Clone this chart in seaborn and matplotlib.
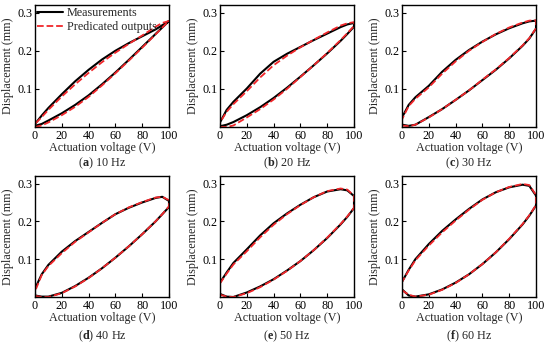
import matplotlib
matplotlib.use("Agg")
import matplotlib.pyplot as plt
import seaborn as sns
import pandas as pd

# ---------------- data ----------------
VOLTS = [0, 5, 10, 20, 30, 40, 50, 60, 70, 80, 90, 95, 100]

PANELS = ["a", "b", "c", "d", "e", "f"]
FREQS = ["10 Hz", "20 Hz", "30 Hz", "40 Hz", "50 Hz", "60 Hz"]

# ascending (lower) branch, measured
MEAS_UP = {
    "a": [0.003, 0.008, 0.017, 0.036, 0.058, 0.083, 0.112, 0.143, 0.176, 0.210, 0.244, 0.261, 0.278],
    "b": [0.002, 0.006, 0.013, 0.031, 0.052, 0.076, 0.103, 0.132, 0.162, 0.193, 0.226, 0.244, 0.263],
    "c": [0.006, 0.003, 0.006, 0.026, 0.047, 0.071, 0.096, 0.123, 0.150, 0.180, 0.213, 0.232, 0.258],
    "d": [0.004, 0.001, 0.001, 0.011, 0.029, 0.051, 0.076, 0.104, 0.134, 0.166, 0.200, 0.219, 0.238],
    "e": [0.008, 0.001, 0.000, 0.012, 0.028, 0.047, 0.070, 0.095, 0.124, 0.156, 0.192, 0.212, 0.235],
    "f": [0.020, 0.004, 0.001, 0.007, 0.020, 0.038, 0.060, 0.087, 0.118, 0.153, 0.192, 0.215, 0.242],
}
# descending (upper) branch, measured (listed at ascending voltages)
MEAS_DOWN = {
    "a": [0.008, 0.030, 0.050, 0.086, 0.120, 0.150, 0.177, 0.200, 0.220, 0.238, 0.256, 0.267, 0.278],
    "b": [0.012, 0.045, 0.066, 0.101, 0.140, 0.171, 0.192, 0.210, 0.228, 0.245, 0.262, 0.269, 0.273],
    "c": [0.025, 0.058, 0.078, 0.108, 0.145, 0.176, 0.202, 0.224, 0.243, 0.259, 0.272, 0.277, 0.279],
    "d": [0.022, 0.060, 0.085, 0.120, 0.148, 0.172, 0.196, 0.219, 0.236, 0.250, 0.262, 0.265, 0.254],
    "e": [0.038, 0.065, 0.090, 0.126, 0.163, 0.195, 0.221, 0.244, 0.264, 0.279, 0.285, 0.282, 0.267],
    "f": [0.040, 0.072, 0.100, 0.140, 0.175, 0.205, 0.233, 0.258, 0.277, 0.290, 0.297, 0.294, 0.268],
}
# predicted outputs
PRED_UP = {
    "a": [0.000, 0.004, 0.012, 0.031, 0.053, 0.079, 0.109, 0.141, 0.174, 0.208, 0.243, 0.261, 0.278],
    "b": [0.000, 0.000, 0.004, 0.025, 0.047, 0.072, 0.100, 0.131, 0.162, 0.194, 0.228, 0.246, 0.265],
    "c": [0.004, 0.002, 0.006, 0.025, 0.047, 0.071, 0.096, 0.124, 0.151, 0.181, 0.214, 0.233, 0.259],
    "d": [0.003, 0.000, 0.000, 0.010, 0.028, 0.050, 0.076, 0.104, 0.134, 0.166, 0.200, 0.219, 0.240],
    "e": [0.006, 0.001, 0.000, 0.010, 0.026, 0.046, 0.069, 0.095, 0.124, 0.157, 0.193, 0.213, 0.236],
    "f": [0.018, 0.006, 0.001, 0.006, 0.019, 0.037, 0.060, 0.087, 0.118, 0.154, 0.193, 0.216, 0.243],
}
PRED_DOWN = {
    "a": [0.008, 0.026, 0.045, 0.080, 0.112, 0.142, 0.170, 0.195, 0.218, 0.240, 0.263, 0.273, 0.278],
    "b": [0.012, 0.040, 0.060, 0.094, 0.130, 0.162, 0.187, 0.209, 0.229, 0.248, 0.266, 0.272, 0.275],
    "c": [0.020, 0.055, 0.074, 0.104, 0.140, 0.172, 0.200, 0.223, 0.244, 0.261, 0.274, 0.279, 0.280],
    "d": [0.015, 0.058, 0.082, 0.116, 0.146, 0.171, 0.196, 0.219, 0.237, 0.251, 0.263, 0.265, 0.256],
    "e": [0.036, 0.062, 0.086, 0.121, 0.158, 0.191, 0.219, 0.243, 0.264, 0.280, 0.287, 0.284, 0.268],
    "f": [0.040, 0.070, 0.097, 0.136, 0.171, 0.202, 0.231, 0.257, 0.277, 0.291, 0.299, 0.296, 0.270],
}

X_TICKS = [0, 20, 40, 60, 80, 100]
Y_TICKS = [0.1, 0.2, 0.3]

# ---------------- style ----------------
sns.set_style("ticks")
FONT = "Liberation Serif"
plt.rcParams["font.family"] = [FONT, "DejaVu Serif"]
plt.rcParams["mathtext.fontset"] = "custom"
plt.rcParams["mathtext.rm"] = FONT
plt.rcParams["mathtext.bf"] = FONT + ":bold"
FS = 8.7
RED = "#f0262a"

fig = plt.figure(figsize=(5.5, 3.44), dpi=100)

W, H = 550.0, 344.0
lefts = [35, 220, 402]
rows = [(5, 127), (176, 297)]
cap_y = [163, 336]


def loop(up, down):
    xs = VOLTS + VOLTS[::-1] + [VOLTS[0]]
    ys = up + down[::-1] + [up[0]]
    return pd.DataFrame({"V": xs, "D": ys, "order": range(len(xs))})


for i, p in enumerate(PANELS):
    r, c = divmod(i, 3)
    top, bot = rows[r]
    l = lefts[c]
    ax = fig.add_axes([l / W, 1 - bot / H, 134 / W, (bot - top) / H])
    dm = loop(MEAS_UP[p], MEAS_DOWN[p])
    dp = loop(PRED_UP[p], PRED_DOWN[p])
    sns.lineplot(data=dm, x="V", y="D", sort=False, estimator=None, ax=ax,
                 color="black", lw=1.5, label="Measurements" if i == 0 else None)
    sns.lineplot(data=dp, x="V", y="D", sort=False, estimator=None, ax=ax,
                 color=RED, lw=1.3, dashes=(3.5, 2.0), linestyle="--",
                 label="Predicated outputs" if i == 0 else None)
    ax.set_xlim(0, 100)
    ax.set_ylim(0, 0.32)
    ax.set_xticks(X_TICKS)
    ax.set_yticks(Y_TICKS)
    ax.set_yticklabels([f"{t:.1f}" for t in Y_TICKS])
    ax.tick_params(direction="in", length=3, width=0.8, labelsize=FS, pad=2,
                   colors="black")
    for s in ax.spines.values():
        s.set_linewidth(1.0)
        s.set_color("black")
    ax.set_xlabel("Actuation voltage (V)", fontsize=FS, labelpad=0.5)
    ax.set_ylabel("Displacement (mm)", fontsize=FS, labelpad=2)
    if i == 0:
        ax.legend(loc="upper left", frameon=False, fontsize=FS,
                  handlelength=2.2, handletextpad=0.3,
                  borderaxespad=0.05, borderpad=0.1, labelspacing=0.2)
    else:
        if ax.get_legend() is not None:
            ax.get_legend().remove()
    fig.text((l + 67) / W, 1 - cap_y[r] / H,
             r"($\mathbf{" + p + r"}$) " + FREQS[i],
             ha="center", va="center", fontsize=FS)

fig.savefig("out.png", dpi=100)
